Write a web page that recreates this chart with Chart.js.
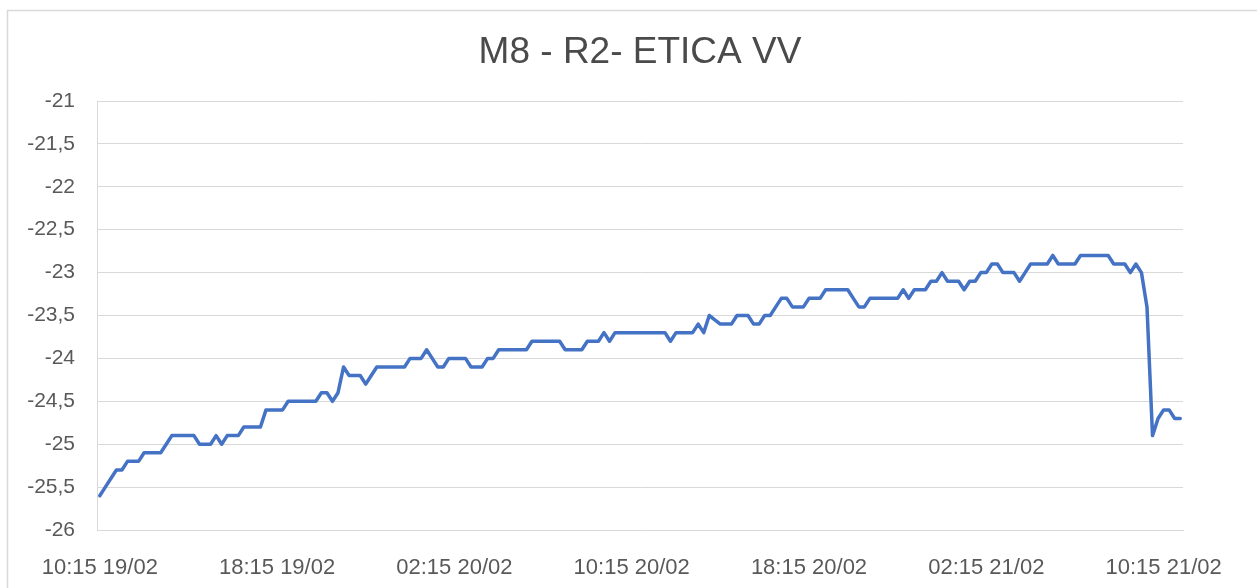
<!DOCTYPE html>
<html>
<head>
<meta charset="utf-8">
<script src="https://cdn.jsdelivr.net/npm/chart.js@4.4.1/dist/chart.umd.min.js"></script>
<style>
  html, body { margin: 0; padding: 0; background: #ffffff; }
  #wrap { position: relative; width: 1257px; height: 588px; }
</style>
</head>
<body>
<div id="wrap"><canvas id="c"></canvas></div>
<script>
// ---- data ----
const chartTitle = 'M8 - R2- ETICA VV';
const startDay = 19, startHour = 10, startMinute = 15, stepMinutes = 15;
const xTickLabels = ['10:15 19/02', '18:15 19/02', '02:15 20/02', '10:15 20/02', '18:15 20/02', '02:15 21/02', '10:15 21/02'];
const xTickEvery = 32;
const yMin = -26, yMax = -21, yStep = 0.5;
const values = [
  -25.6,-25.5,-25.4,-25.3,-25.3,-25.2,-25.2,-25.2,-25.1,-25.1,
  -25.1,-25.1,-25.0,-24.9,-24.9,-24.9,-24.9,-24.9,-25.0,-25.0,
  -25.0,-24.9,-25.0,-24.9,-24.9,-24.9,-24.8,-24.8,-24.8,-24.8,
  -24.6,-24.6,-24.6,-24.6,-24.5,-24.5,-24.5,-24.5,-24.5,-24.5,
  -24.4,-24.4,-24.5,-24.4,-24.1,-24.2,-24.2,-24.2,-24.3,-24.2,
  -24.1,-24.1,-24.1,-24.1,-24.1,-24.1,-24.0,-24.0,-24.0,-23.9,
  -24.0,-24.1,-24.1,-24.0,-24.0,-24.0,-24.0,-24.1,-24.1,-24.1,
  -24.0,-24.0,-23.9,-23.9,-23.9,-23.9,-23.9,-23.9,-23.8,-23.8,
  -23.8,-23.8,-23.8,-23.8,-23.9,-23.9,-23.9,-23.9,-23.8,-23.8,
  -23.8,-23.7,-23.8,-23.7,-23.7,-23.7,-23.7,-23.7,-23.7,-23.7,
  -23.7,-23.7,-23.7,-23.8,-23.7,-23.7,-23.7,-23.7,-23.6,-23.7,
  -23.5,-23.55,-23.6,-23.6,-23.6,-23.5,-23.5,-23.5,-23.6,-23.6,
  -23.5,-23.5,-23.4,-23.3,-23.3,-23.4,-23.4,-23.4,-23.3,-23.3,
  -23.3,-23.2,-23.2,-23.2,-23.2,-23.2,-23.3,-23.4,-23.4,-23.3,
  -23.3,-23.3,-23.3,-23.3,-23.3,-23.2,-23.3,-23.2,-23.2,-23.2,
  -23.1,-23.1,-23.0,-23.1,-23.1,-23.1,-23.2,-23.1,-23.1,-23.0,
  -23.0,-22.9,-22.9,-23.0,-23.0,-23.0,-23.1,-23.0,-22.9,-22.9,
  -22.9,-22.9,-22.8,-22.9,-22.9,-22.9,-22.9,-22.8,-22.8,-22.8,
  -22.8,-22.8,-22.8,-22.9,-22.9,-22.9,-23.0,-22.9,-23.0,-23.4,
  -24.9,-24.7,-24.6,-24.6,-24.7,-24.7
];

// category labels: timestamps, one per reading (15 min apart)
const pad2 = n => String(n).padStart(2, '0');
const categories = values.map((_, i) => {
  const total = startHour * 60 + startMinute + i * stepMinutes;
  const day = startDay + Math.floor(total / 1440);
  const mins = total % 1440;
  return pad2(Math.floor(mins / 60)) + ':' + pad2(mins % 60) + ' ' + pad2(day) + '/02';
});

const textColor = '#595959';
const titleColor = '#4a4a4a';
const gridColor = '#d9d9d9';
const fontFamily = '"Liberation Sans", Arial, sans-serif';

const frame = {
  id: 'frame',
  beforeDraw(chart) {
    const ctx = chart.ctx;
    ctx.save();
    ctx.fillStyle = '#ffffff';
    ctx.fillRect(0, 0, chart.width, chart.height);
    ctx.strokeStyle = gridColor;
    ctx.lineWidth = 1.5;
    ctx.strokeRect(7.5, 10.5, 1400, 800);
    ctx.restore();
  }
};

new Chart(document.getElementById('c'), {
  type: 'line',
  data: {
    labels: categories,
    datasets: [{
      data: values,
      borderColor: '#4472C4',
      borderWidth: 3.5,
      pointRadius: 0,
      pointHoverRadius: 0,
      tension: 0,
      fill: false,
      borderJoinStyle: 'round',
      borderCapStyle: 'round'
    }]
  },
  options: {
    responsive: true,
    maintainAspectRatio: false,
    animation: false,
    layout: { padding: { left: 20, right: 74, top: 0, bottom: 0 } },
    plugins: {
      legend: { display: false },
      tooltip: { enabled: false },
      title: {
        display: true,
        text: chartTitle,
        fullSize: false,
        color: titleColor,
        font: { family: fontFamily, size: 37, weight: 'normal' },
        padding: { top: 30.4, bottom: 26.2 }
      }
    },
    scales: {
      x: {
        type: 'category',
        offset: true,
        grid: { display: false, drawTicks: false },
        border: { display: true, color: gridColor, width: 1 },
        ticks: {
          autoSkip: false,
          maxRotation: 0,
          minRotation: 0,
          padding: 25,
          color: textColor,
          font: { family: fontFamily, size: 22 },
          callback: (v, i) => (i % xTickEvery === 0 ? xTickLabels[i / xTickEvery] : null)
        },
        afterFit: s => { s.height = 58; }
      },
      y: {
        min: yMin,
        max: yMax,
        grid: { color: gridColor, lineWidth: 1, drawTicks: false },
        border: { display: true, color: gridColor, width: 1 },
        ticks: {
          stepSize: yStep,
          padding: 22,
          color: textColor,
          font: { family: fontFamily, size: 21 },
          callback: v => String(Math.round(v * 10) / 10).replace('.', ',')
        },
        afterFit: s => { s.width = 77; }
      }
    }
  },
  plugins: [frame]
});
</script>
</body>
</html>
